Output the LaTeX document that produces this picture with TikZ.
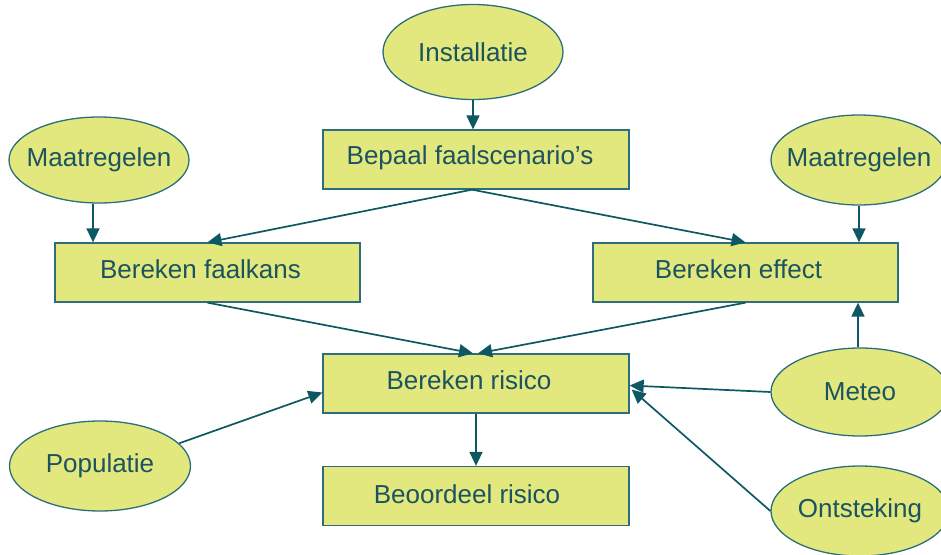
\documentclass[tikz,border=0pt]{standalone}
\usepackage{fontspec}
\setmainfont{Liberation Sans}
\usetikzlibrary{shapes.geometric,arrows.meta,calc}
\definecolor{boxfill}{HTML}{E2E87E}
\definecolor{boxline}{HTML}{2C6F7A}
\definecolor{txt}{HTML}{1B5360}
\definecolor{arrcol}{HTML}{0D5862}
\begin{document}
\begin{tikzpicture}[x=1pt,y=-1pt,
  every label/.style={text=txt,font=\fontsize{26}{30}\selectfont,inner sep=0pt},
  ell/.style={ellipse,draw=boxline,fill=boxfill,line width=1.3pt,inner sep=0pt,minimum width=178pt,minimum height=88pt},
  stepbox/.style={rectangle,draw=boxline,fill=boxfill,line width=1.3pt,inner sep=0pt,minimum width=306pt,minimum height=59pt},
  arr/.style={draw=arrcol,line width=1.7pt,-{Triangle[length=14pt,width=13pt]}}]
\useasboundingbox (0,0) rectangle (941,554);
\clip (0,0) rectangle (941,554);
% ellipses
\node[ell,minimum width=180pt,minimum height=95pt,label={center:Installatie}] (inst) at (473,52) {};
\node[ell,minimum width=180pt,minimum height=86pt,label={center:Maatregelen}] (mleft) at (99,160) {};
\node[ell,minimum width=176pt,minimum height=90pt,label={center:Maatregelen}] (mright) at (859,160) {};
\node[ell,label={center:Meteo}] (meteo) at (860,392) {};
\node[ell,minimum height=90pt,label={center:Ontsteking}] (ont) at (860,511) {};
\node[ell,minimum width=181pt,minimum height=90pt,label={center:Populatie}] (pop) at (100,466) {};
% boxes
\node[stepbox,label={[xshift=-6pt,yshift=2pt]center:Bepaal faalscenario’s}] (bepaal) at (476,159.5) {};
\node[stepbox,minimum width=305pt,label={[xshift=-7pt,yshift=3pt]center:Bereken faalkans}] (faal) at (207.5,272.5) {};
\node[stepbox,minimum width=305pt,label={[xshift=-7pt,yshift=3pt]center:Bereken effect}] (eff) at (745.5,272.5) {};
\node[stepbox,label={[xshift=-7pt,yshift=3pt]center:Bereken risico}] (ris) at (476,383.5) {};
\node[stepbox,label={[xshift=-9pt,yshift=2pt]center:Beoordeel risico}] (beo) at (476,496) {};
% connectors
\draw[arr] (inst.south) -- (inst.south |- bepaal.north);
\draw[arr] ([xshift=-4pt]bepaal.south) -- (faal.north);
\draw[arr] ([xshift=-4pt]bepaal.south) -- (eff.north);
\draw[arr] ([xshift=-6pt]mleft.south) -- ([xshift=-6pt]mleft.south |- faal.north);
\draw[arr] (mright.south) -- (mright.south |- eff.north);
\draw[arr] (faal.south) -- ([xshift=-3pt]ris.north);
\draw[arr] (eff.south) -- ([xshift=2pt]ris.north);
\draw[arr] ([xshift=-2pt]meteo.north) -- ([xshift=-2pt]meteo.north |- eff.south);
\draw[arr] (meteo.west) -- ([yshift=-2pt]ris.east);
\draw[arr] (ont.west) -- ([xshift=2pt,yshift=-6pt]ris.east);
\draw[arr] (pop.16) -- ([yshift=-9pt]ris.west);
\draw[arr] (ris.south) -- (beo.north);
\end{tikzpicture}
\end{document}
